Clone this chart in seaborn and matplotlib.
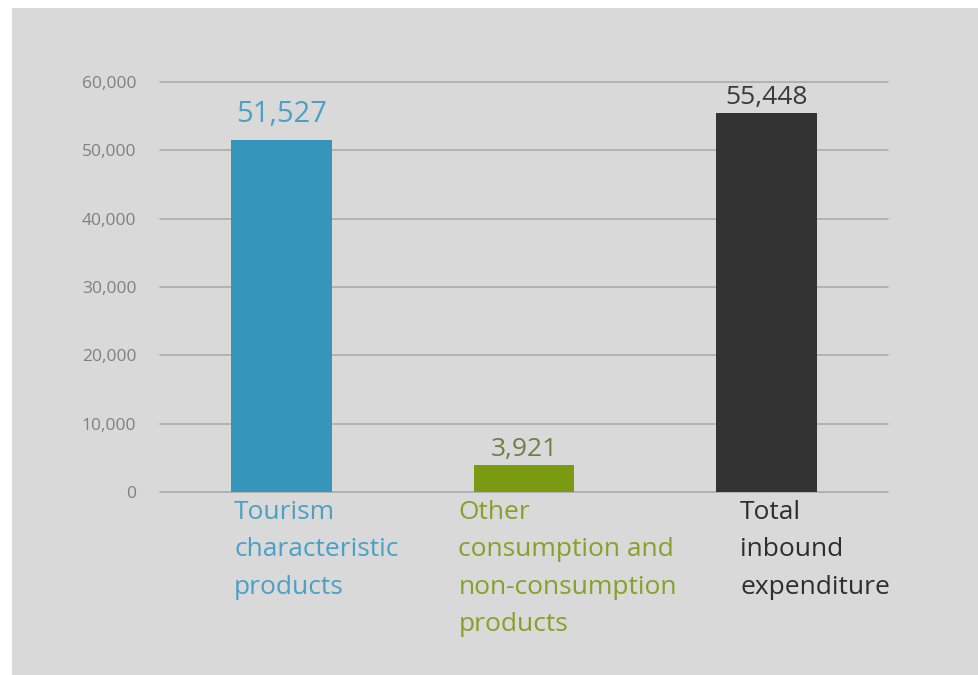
import matplotlib
matplotlib.use("Agg")
import matplotlib.pyplot as plt
import seaborn as sns
import pandas as pd
from matplotlib.patches import Rectangle

categories = ["Tourism\ncharacteristic\nproducts",
              "Other\nconsumption and\nnon-consumption\nproducts",
              "Total\ninbound\nexpenditure"]
values = [51527, 3921, 55448]
value_labels = ["51,527", "3,921", "55,448"]
yticks = [0, 10000, 20000, 30000, 40000, 50000, 60000]
ytick_labels = ["0", "10,000", "20,000", "30,000", "40,000", "50,000", "60,000"]

bar_colors = ["#3596ba", "#7a9a12", "#333333"]
value_colors = ["#4ba0c6", "#6f7f45", "#3a3a3a"]
cat_colors = ["#4ba0c6", "#86a02a", "#2e2e2e"]
label_offsets = [-0.195, -0.27, -0.109]
value_sizes = [21, 19, 19]
value_pads = [1600, 500, 400]

sns.set_theme(style="white")
plt.rcParams['font.family'] = ['Open Sans', 'DejaVu Sans']

fig = plt.figure(figsize=(9.79, 6.75), dpi=100)
fig.patch.set_facecolor("#ffffff")
fig.patches.append(Rectangle((12/979, 0), 1, (675-8)/675, transform=fig.transFigure,
                             facecolor="#d9d9d9", edgecolor="none", zorder=-10))

ax = fig.add_axes([160/979, 183/675, (888-160)/979, (492-82)/675])
ax.set_facecolor("none")

df = pd.DataFrame({"cat": categories, "val": values})
sns.barplot(data=df, x="cat", y="val", hue="cat", palette=bar_colors,
            width=0.416, legend=False, ax=ax, saturation=1, zorder=3,
            linewidth=0, edgecolor="none")

ax.set_xlim(-0.5, 2.5)
ax.set_ylim(0, 60000)
ax.set_yticks(yticks)
ax.set_yticklabels(ytick_labels, fontsize=12.5, color="#808080")
ax.tick_params(axis="y", length=0, pad=17)
ax.tick_params(axis="x", length=0)
ax.set_xticklabels([])
ax.set_xlabel("")
ax.set_ylabel("")
for y in yticks:
    ax.axhline(y, color="#ababab", lw=1.2, zorder=1, clip_on=False)
for s in ax.spines.values():
    s.set_visible(False)

for i, (v, lab) in enumerate(zip(values, value_labels)):
    ax.text(i, v + value_pads[i], lab, ha="center", va="bottom",
            fontsize=value_sizes[i], color=value_colors[i])
    ax.text(i + label_offsets[i], -1100, categories[i], ha="left", va="top",
            fontsize=19, color=cat_colors[i], linespacing=1.66)

fig.savefig("out.png", dpi=100)
